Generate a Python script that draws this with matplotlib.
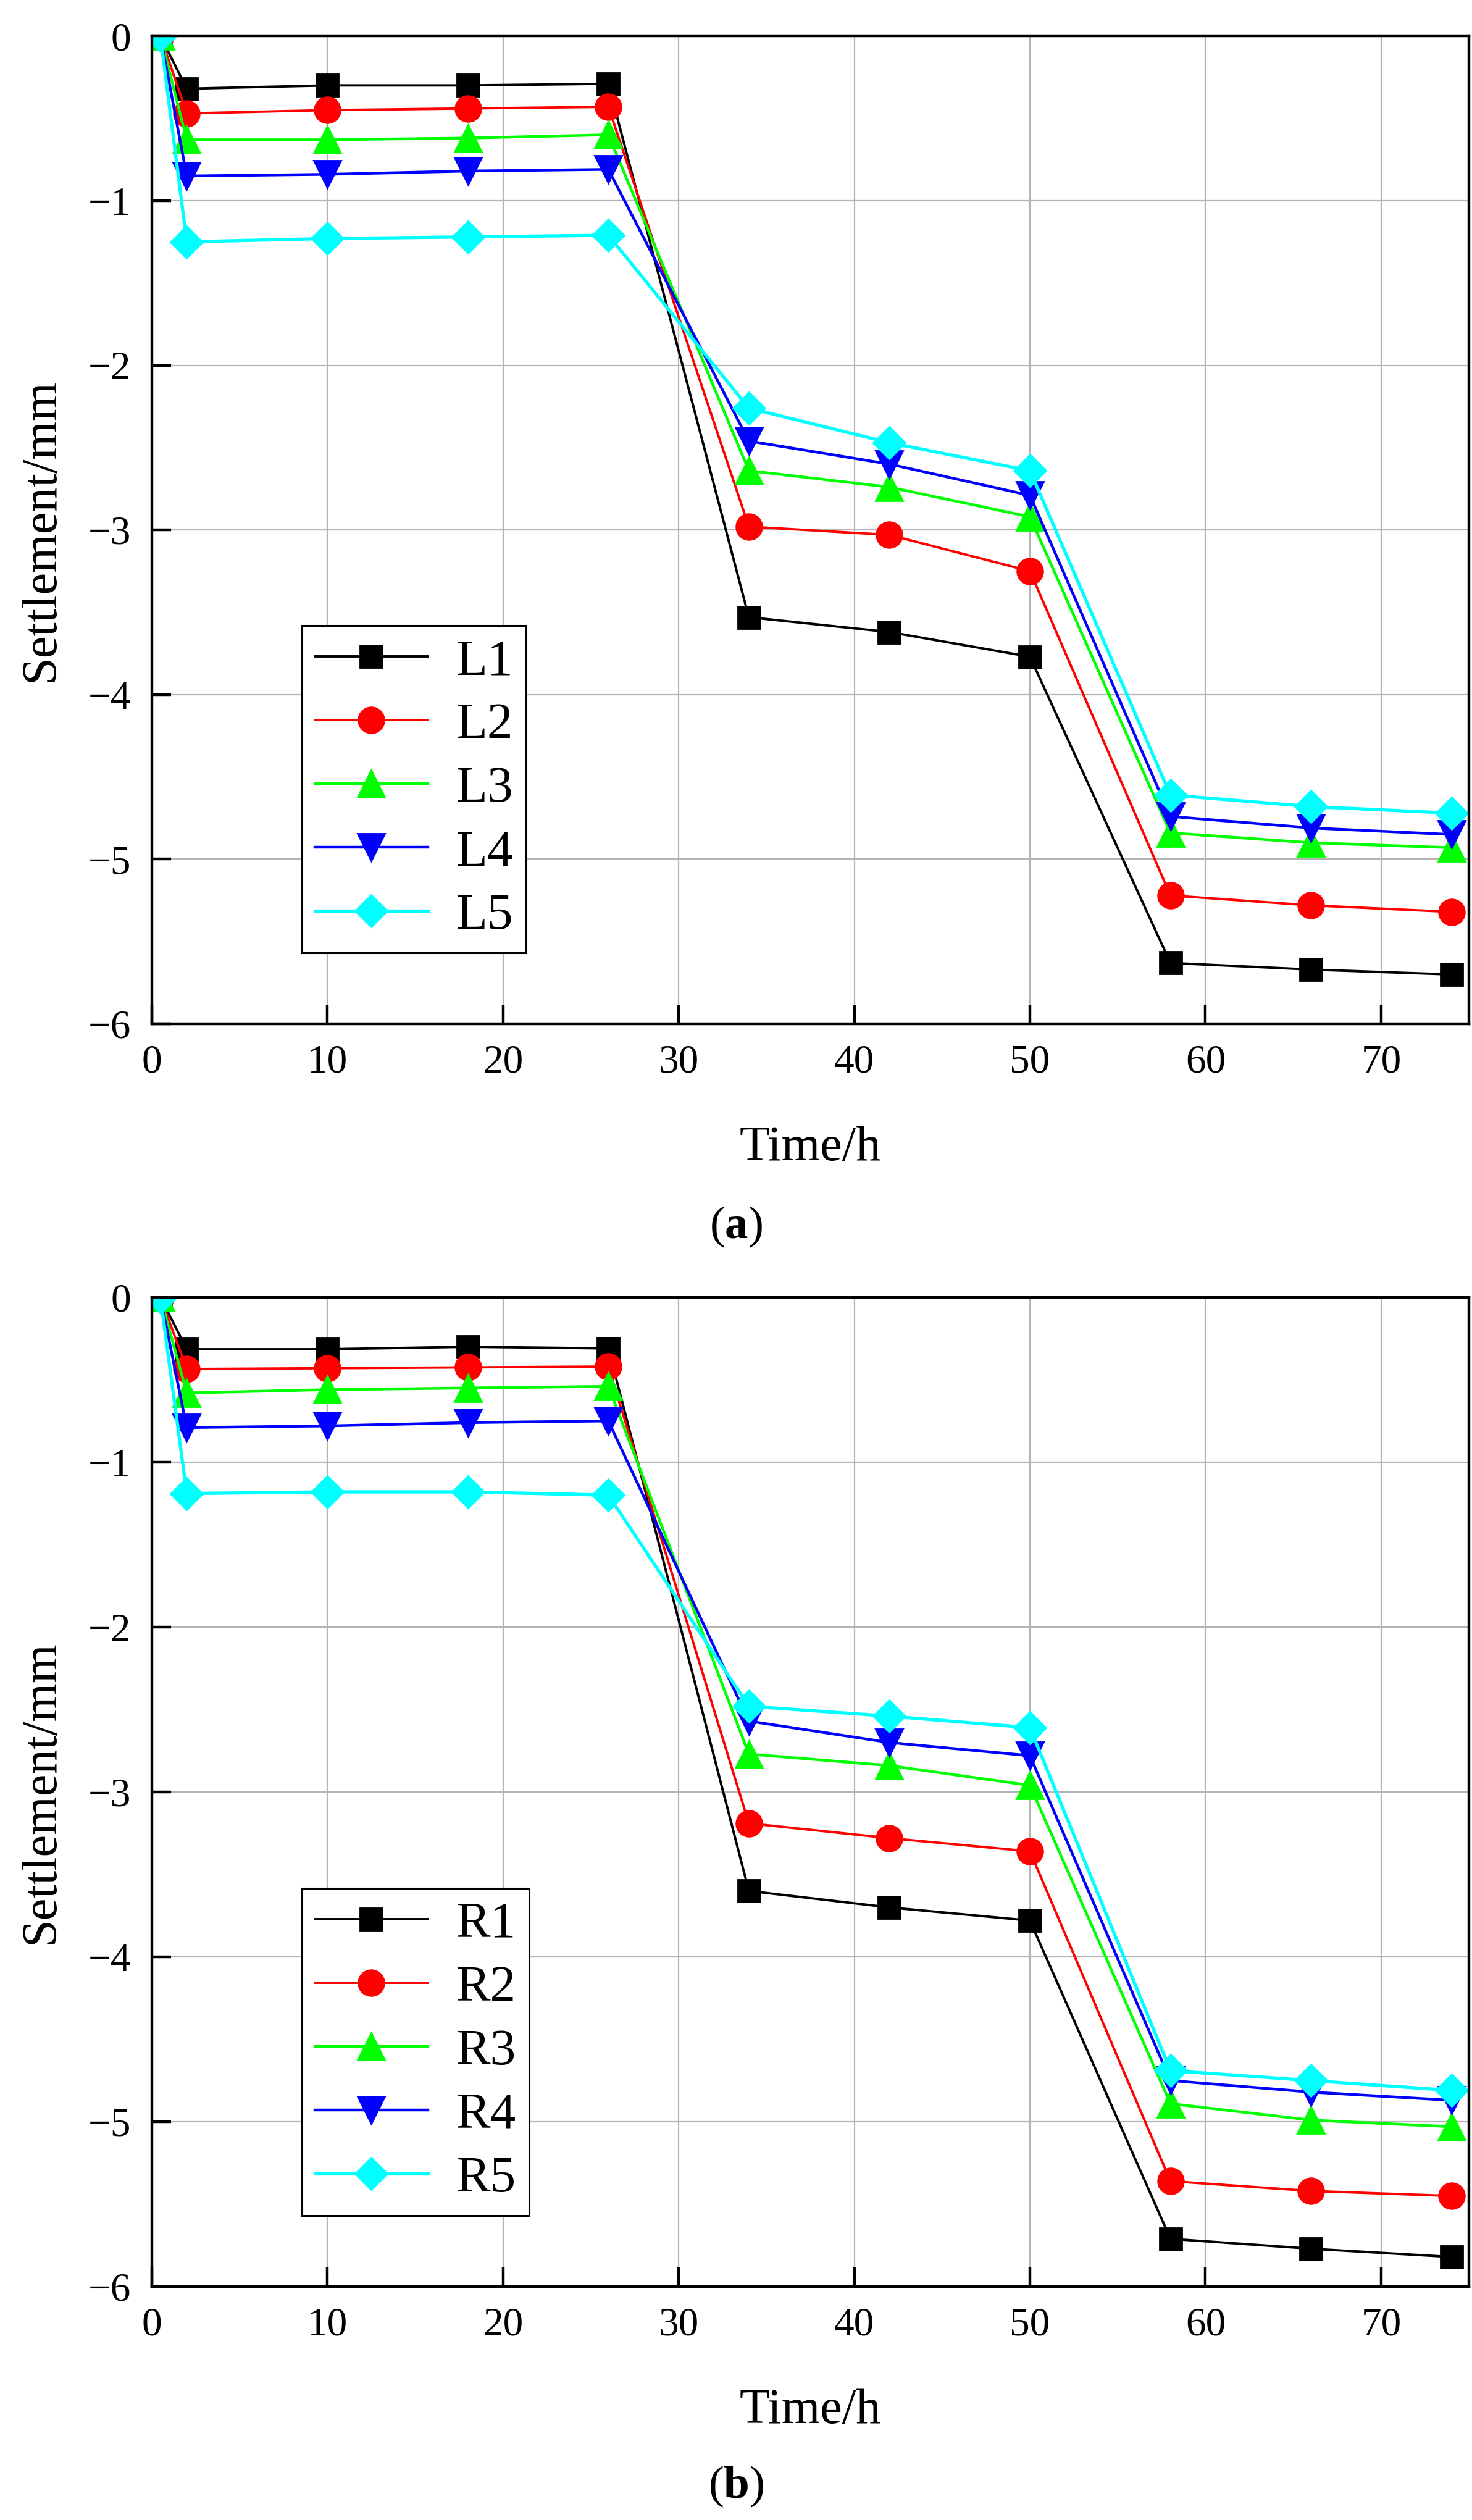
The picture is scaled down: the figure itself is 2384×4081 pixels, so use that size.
from matplotlib import pyplot as plt

# time of each reading, hours
time_h = [0.5, 2, 10, 18, 26, 34, 42, 50, 58, 66, 74]

# left side settlement, mm
L1 = [0, -0.32, -0.30, -0.30, -0.29, -3.53, -3.62, -3.77, -5.63, -5.67, -5.70]
L2 = [0, -0.47, -0.45, -0.44, -0.43, -2.98, -3.03, -3.25, -5.22, -5.28, -5.32]
L3 = [0, -0.63, -0.63, -0.62, -0.60, -2.64, -2.74, -2.92, -4.84, -4.90, -4.93]
L4 = [0, -0.85, -0.84, -0.82, -0.81, -2.46, -2.60, -2.79, -4.74, -4.81, -4.85]
L5 = [0, -1.25, -1.23, -1.22, -1.21, -2.26, -2.47, -2.64, -4.61, -4.68, -4.72]

# right side settlement, mm
R1 = [0, -0.315, -0.315, -0.30, -0.31, -3.60, -3.70, -3.78, -5.71, -5.77, -5.82]
R2 = [0, -0.435, -0.43, -0.425, -0.42, -3.19, -3.28, -3.36, -5.36, -5.42, -5.45]
R3 = [0, -0.58, -0.56, -0.55, -0.54, -2.77, -2.84, -2.96, -4.89, -4.99, -5.03]
R4 = [0, -0.79, -0.78, -0.76, -0.75, -2.57, -2.70, -2.78, -4.75, -4.82, -4.87]
R5 = [0, -1.19, -1.18, -1.18, -1.20, -2.48, -2.54, -2.61, -4.69, -4.75, -4.81]

x_ticks = [0, 10, 20, 30, 40, 50, 60, 70]
y_ticks = [0, -1, -2, -3, -4, -5, -6]

STYLES = [
   ('black', 's', 13, 1.4),
   ('#ff0000', 'o', 15, 1.4),
   ('#00ff00', '^', 16, 1.6),
   ('#0000ff', 'v', 16, 1.6),
   ('#00ffff', 'D', 13, 1.9),
]

plt.rcParams['font.family'] = ['Liberation Serif', 'DejaVu Serif']
plt.rcParams['mathtext.fontset'] = 'custom'
plt.rcParams['mathtext.rm'] = 'Liberation Serif'
plt.rcParams['mathtext.bf'] = 'Liberation Serif:bold'


def draw_panel(ax, series, names):
   'One settlement panel'
   for values, name, (color, marker, ms, lw) in zip(series, names, STYLES):
      ax.plot(time_h, values, color=color, marker=marker, markersize=ms,
              linewidth=lw, label=name)
   ax.set_xlim(0, 75)
   ax.set_ylim(-6, 0)
   ax.set_xticks(x_ticks)
   ax.set_yticks(y_ticks)
   ax.grid(True, color='#b4b4b4', linewidth=0.8)
   ax.set_axisbelow(True)
   for side in ax.spines.values():
      side.set_linewidth(1.6)
   ax.tick_params(direction='in', length=11, width=1.6, labelsize=23.5,
                  pad=12, top=False, right=False)
   ax.set_xlabel('Time/h', fontsize=29, labelpad=26)
   ax.set_ylabel('Settlement/mm', fontsize=29, labelpad=14)
   leg = ax.legend(loc='lower left', bbox_to_anchor=(0.114, 0.072),
                   fontsize=30, frameon=True, fancybox=False, framealpha=1,
                   edgecolor='black', handlelength=2.2, handletextpad=0.55,
                   labelspacing=0.32, borderpad=0.25, borderaxespad=0)
   leg.get_frame().set_linewidth(1.1)


def main():
   fig = plt.figure(figsize=(11.92, 20.405), dpi=200)
   ax_a = fig.add_axes([0.103, 0.5937, 0.895, 0.392])
   ax_b = fig.add_axes([0.103, 0.0926, 0.895, 0.3926])
   draw_panel(ax_a, [L1, L2, L3, L4, L5], ['L1', 'L2', 'L3', 'L4', 'L5'])
   draw_panel(ax_b, [R1, R2, R3, R4, R5], ['R1', 'R2', 'R3', 'R4', 'R5'])
   fig.text(0.5, 0.513, r'($\mathbf{a}$)', ha='center', va='center', fontsize=27)
   fig.text(0.5, 0.0132, r'($\mathbf{b}$)', ha='center', va='center', fontsize=27)
   fig.savefig('out.png', dpi=200)


if __name__ == "__main__":
   main()
